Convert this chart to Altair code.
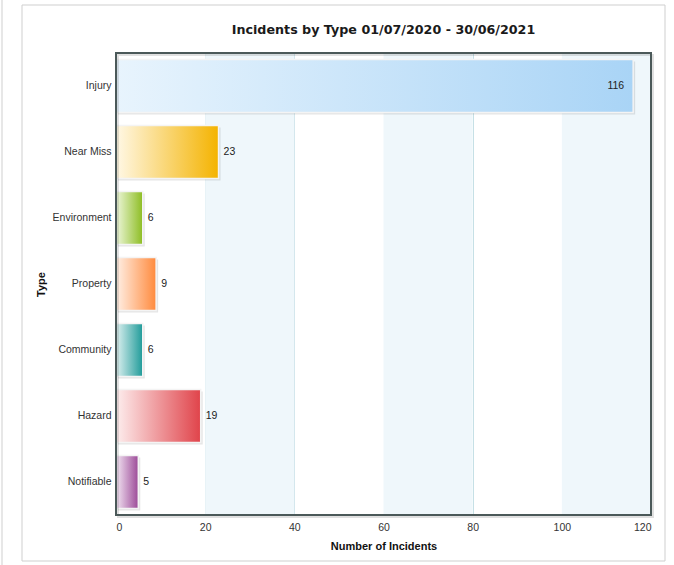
import altair as alt
import pandas as pd

# Incident counts by type
types = ["Injury", "Near Miss", "Environment", "Property", "Community", "Hazard", "Notifiable"]
counts = [116, 23, 6, 9, 6, 19, 5]

# Gradient end colours for each bar (light on the left, saturated on the right)
light_colors = ["#e8f4fd", "#fff8e6", "#eef7dc", "#fff0e6", "#dff1f1", "#fdeeee", "#f3e6f3"]
dark_colors = ["#a9d4f6", "#f4b300", "#8dbd22", "#ff8a3d", "#1f9b99", "#e0434a", "#9c4a98"]

# Alternating shaded bands between gridlines
band_start = [20, 60, 100]
band_end = [40, 80, 120]

TITLE = "Incidents by Type 01/07/2020 - 30/06/2021"

df = pd.DataFrame({"Type": types, "Count": counts})
bands = pd.DataFrame({"start": band_start, "end": band_end})
one = pd.DataFrame({"f": [0]})

FONT = "Liberation Sans"
W, H = 535, 462

x_scale = alt.Scale(domain=[0, 120], nice=False, zero=True)
y_scale = alt.Scale(domain=types, paddingInner=0.2, paddingOuter=0.1)

# Outer panel frame around the chart
frame = alt.Chart(one).mark_rect(
    fill="transparent", stroke="#cfcfcf", strokeWidth=1
).encode(
    x=alt.value(-94), x2=alt.value(549), y=alt.value(-48), y2=alt.value(508)
)
side_line = alt.Chart(one).mark_rule(color="#cfcfcf", strokeWidth=1).encode(
    x=alt.value(-114), y=alt.value(-53), y2=alt.value(512)
)

# Chart title
title_text = alt.Chart(one).mark_text(
    text=TITLE, font="DejaVu Sans", fontSize=12.7, fontWeight="bold", color="#1a1a1a",
    align="center", baseline="middle",
).encode(x=alt.value(W / 2), y=alt.value(-23))

band_layer = alt.Chart(bands).mark_rect(color="#eff7fb").encode(
    x=alt.X("start:Q", scale=x_scale),
    x2="end:Q",
)

base = alt.Chart(df)

axis_x = alt.Axis(
    title="Number of Incidents", values=[0, 20, 40, 60, 80, 100, 120],
    grid=True, gridColor="#c6e0e6", gridWidth=1, ticks=False, domain=False,
    labelPadding=7, labelFont=FONT, labelFontSize=10.5, labelColor="#333",
    titleFont=FONT, titleFontSize=11, titleFontWeight="bold", titleColor="#111",
    titlePadding=8,
)
axis_y = alt.Axis(
    title="Type", ticks=False, domain=False, labelPadding=5,
    labelFont=FONT, labelFontSize=10.5, labelColor="#333",
    titleFont=FONT, titleFontSize=11, titleFontWeight="bold", titleColor="#111",
    titlePadding=6,
)

# Soft drop shadow under the bars
shadow = base.mark_bar(color="#000000", opacity=0.10, xOffset=2, yOffset=2).encode(
    x=alt.X("Count:Q", scale=x_scale, axis=axis_x),
    y=alt.Y("Type:N", scale=y_scale, axis=axis_y, sort=types),
)

bar_layers = []
for t, lc, dc in zip(types, light_colors, dark_colors):
    grad = alt.Gradient(
        gradient="linear",
        stops=[alt.GradientStop(color=lc, offset=0), alt.GradientStop(color=dc, offset=1)],
        x1=0, x2=1, y1=0, y2=0,
    )
    bar_layers.append(
        base.transform_filter(alt.datum.Type == t)
        .mark_bar(fill=grad, stroke="#f4f4f4", strokeWidth=1.5)
        .encode(
            x=alt.X("Count:Q", scale=x_scale),
            y=alt.Y("Type:N", scale=y_scale, sort=types),
        )
    )

# Value labels: outside the bar, except the longest which sits inside
labels_out = base.transform_filter(alt.datum.Count < 100).mark_text(
    align="left", baseline="middle", dx=5, font=FONT, fontSize=10.5, color="#222"
).encode(
    x=alt.X("Count:Q", scale=x_scale),
    y=alt.Y("Type:N", scale=y_scale, sort=types),
    text="Count:Q",
)
labels_in = base.transform_filter(alt.datum.Count >= 100).mark_text(
    align="right", baseline="middle", dx=-9, font=FONT, fontSize=10.5, color="#222"
).encode(
    x=alt.X("Count:Q", scale=x_scale),
    y=alt.Y("Type:N", scale=y_scale, sort=types),
    text="Count:Q",
)

# Dark border around the plot area, with a faint shadow
plot_shadow = alt.Chart(one).mark_rect(
    fill="transparent", stroke="#000000", strokeOpacity=0.12, strokeWidth=2
).encode(x=alt.value(2), x2=alt.value(W + 2), y=alt.value(2), y2=alt.value(H + 2))
plot_border = alt.Chart(one).mark_rect(
    fill="transparent", stroke="#4b5959", strokeWidth=2
).encode(x=alt.value(0), x2=alt.value(W), y=alt.value(0), y2=alt.value(H))

chart = alt.layer(
    frame, side_line, title_text, band_layer, shadow, *bar_layers,
    labels_out, labels_in, plot_shadow, plot_border
).properties(
    width=W, height=H,
    autosize=alt.AutoSizeParams(type="none"),
    padding={"left": 116, "top": 53, "right": 23, "bottom": 50},
).configure_view(
    strokeWidth=0
).configure(background="white")

chart.save("out.html", embed_options={"renderer": "svg", "actions": False})
